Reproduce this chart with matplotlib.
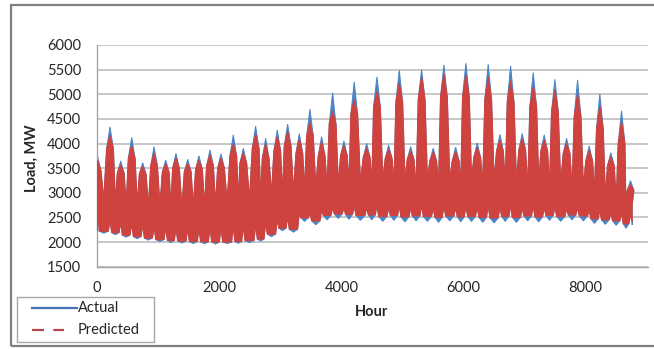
import numpy as np
import matplotlib
matplotlib.use("Agg")
import matplotlib.pyplot as plt
from matplotlib.lines import Line2D
from matplotlib.patches import Rectangle

# ---------------- data ----------------
# hours of the weekly peaks of the load band and of the dips between them
peak_hours = [10, 213, 388, 568, 748, 934, 1125, 1293, 1485, 1669, 1850,
              2030, 2231, 2395, 2597, 2761, 2951, 3121, 3312, 3486, 3677, 3857,
              4042, 4211, 4414, 4583, 4774, 4948, 5134, 5314, 5504, 5679, 5871,
              6039, 6224, 6404, 6596, 6771, 6961, 7141, 7321, 7496, 7687, 7867,
              8057, 8232, 8412, 8587, 8734]
dip_hours = [110, 300, 478, 658, 841, 1030, 1209, 1389, 1577, 1760, 1940,
             2130, 2313, 2496, 2679, 2856, 3036, 3216, 3399, 3581, 3767, 3950,
             4126, 4312, 4498, 4678, 4861, 5041, 5224, 5409, 5591, 5775, 5955,
             6131, 6314, 6500, 6683, 6866, 7051, 7231, 7408, 7591, 7777, 7962,
             8144, 8322, 8500, 8660, 8760]

# Actual load, MW
actual_peak = [3730, 4340, 3645, 4125, 3610, 3935, 3665, 3800, 3680, 3750, 3870,
               3790, 4175, 3905, 4355, 4105, 4275, 4395, 4205, 4695, 4140, 5030,
               4055, 5255, 4005, 5355, 3970, 5490, 3935, 5505, 3905, 5595, 3925,
               5630, 4015, 5610, 4185, 5575, 4205, 5440, 4175, 5305, 4105, 5290,
               3950, 5005, 3815, 4665, 3245]
actual_shoulder = [3450, 3900, 3400, 3700, 3380, 3550, 3420, 3500, 3430, 3480, 3550,
                   3500, 3750, 3600, 3900, 3700, 3850, 3950, 3800, 4150, 3750, 4400,
                   3750, 4600, 3720, 4750, 3700, 4850, 3680, 4900, 3650, 4950, 3650,
                   4950, 3720, 4900, 3850, 4850, 3870, 4750, 3850, 4650, 3800, 4550,
                   3650, 4300, 3550, 4000, 3050]
actual_peak_low = [2650, 2450, 2400, 2380, 2350, 2320, 2300, 2300, 2280, 2280, 2300,
                   2300, 2320, 2330, 2350, 2400, 2450, 2500, 2600, 2600, 2650, 2700,
                   2700, 2750, 2700, 2750, 2700, 2750, 2700, 2750, 2700, 2750, 2700,
                   2750, 2720, 2750, 2720, 2750, 2700, 2750, 2700, 2720, 2680, 2700,
                   2650, 2650, 2600, 2600, 2550]
actual_dip_high = [2850, 2800, 2750, 2750, 2700, 2720, 2700, 2680, 2700, 2720, 2750,
                   2800, 2850, 2850, 2900, 2950, 2950, 3000, 3050, 3100, 3100, 3150,
                   3150, 3200, 3150, 3250, 3150, 3250, 3100, 3250, 3100, 3250, 3150,
                   3250, 3150, 3250, 3150, 3200, 3100, 3200, 3100, 3150, 3050, 3100,
                   3000, 2900, 2800, 2550, 2750]
actual_floor = [2220, 2190, 2140, 2110, 2080, 2050, 2030, 2020, 2010, 2005, 2000,
                2000, 2010, 2030, 2060, 2160, 2280, 2260, 2490, 2430, 2540, 2570,
                2560, 2540, 2550, 2520, 2540, 2510, 2530, 2520, 2500, 2530, 2510,
                2520, 2500, 2490, 2520, 2500, 2530, 2510, 2540, 2520, 2550, 2530,
                2470, 2450, 2430, 2370, 2420]
actual_dip_low = [2180, 2150, 2100, 2070, 2040, 2010, 1990, 1980, 1970, 1965, 1960,
                  1970, 1975, 1990, 2020, 2110, 2230, 2200, 2420, 2350, 2450, 2480,
                  2460, 2440, 2450, 2420, 2440, 2410, 2430, 2420, 2400, 2430, 2410,
                  2420, 2400, 2390, 2420, 2400, 2430, 2410, 2440, 2420, 2450, 2430,
                  2380, 2360, 2340, 2280, 2350]

# Predicted load, MW
predicted_peak = [3660, 4160, 3570, 3960, 3540, 3810, 3590, 3710, 3600, 3660, 3770,
                  3710, 3990, 3810, 4190, 3990, 4150, 4250, 4090, 4430, 4040, 4660,
                  3960, 4890, 3910, 5060, 3880, 5230, 3850, 5360, 3830, 5420, 3840,
                  5400, 3920, 5340, 4070, 5270, 4100, 5160, 4070, 5090, 4000, 5000,
                  3870, 4760, 3740, 4450, 3170]
predicted_shoulder = [3450, 3900, 3400, 3700, 3380, 3550, 3420, 3500, 3430, 3480, 3550,
                      3500, 3750, 3600, 3900, 3700, 3850, 3950, 3800, 4150, 3750, 4400,
                      3750, 4600, 3720, 4750, 3700, 4850, 3680, 4900, 3650, 4950, 3650,
                      4950, 3720, 4900, 3850, 4850, 3870, 4750, 3850, 4650, 3800, 4550,
                      3650, 4300, 3550, 4000, 3050]
predicted_peak_low = [2650, 2450, 2400, 2380, 2350, 2320, 2300, 2300, 2280, 2280, 2300,
                      2300, 2320, 2330, 2350, 2400, 2450, 2500, 2600, 2600, 2650, 2700,
                      2700, 2750, 2700, 2750, 2700, 2750, 2700, 2750, 2700, 2750, 2700,
                      2750, 2720, 2750, 2720, 2750, 2700, 2750, 2700, 2720, 2680, 2700,
                      2650, 2650, 2600, 2600, 2550]
predicted_dip_high = [2870, 2820, 2770, 2770, 2720, 2740, 2720, 2700, 2720, 2740, 2770,
                      2820, 2870, 2870, 2920, 2970, 2970, 3020, 3070, 3120, 3120, 3170,
                      3170, 3220, 3170, 3270, 3170, 3270, 3120, 3270, 3120, 3270, 3170,
                      3270, 3170, 3270, 3170, 3220, 3120, 3220, 3120, 3170, 3070, 3120,
                      3020, 2920, 2820, 2570, 2770]
predicted_dip_low = [2220, 2190, 2140, 2110, 2080, 2050, 2030, 2020, 2010, 2005, 2000,
                     2000, 2010, 2030, 2060, 2160, 2280, 2260, 2490, 2430, 2540, 2570,
                     2560, 2540, 2550, 2520, 2540, 2510, 2530, 2520, 2500, 2530, 2510,
                     2520, 2500, 2490, 2520, 2500, 2530, 2510, 2540, 2520, 2550, 2530,
                     2470, 2450, 2430, 2370, 2420]

x_ticks = [0, 2000, 4000, 6000, 8000]
y_ticks = [1500, 2000, 2500, 3000, 3500, 4000, 4500, 5000, 5500, 6000]
series_names = ["Actual", "Predicted"]

# ---------------- styling ----------------
plt.rcParams["font.family"] = ["Lato", "DejaVu Sans"]
BLUE = "#4A84C6"
RED = "#D0423E"
LEG_BLUE = "#4673B5"
LEG_RED = "#B6464C"
TXT = "#262626"
W, H = 654, 349
UP_HALF = 55    # half width (hours) of the spike shoulders
LO_HALF = 28    # half width (hours) of the notch under each spike

fig = plt.figure(figsize=(W / 100, H / 100), dpi=100)
left, right, top, bottom = 97, 648, 45, 266.7
ax = fig.add_axes([left / W, 1 - bottom / H, (right - left) / W, (bottom - top) / H])


def band(peak, shoulder, dip_high, peak_low, floor, dip_low):
    ph = np.asarray(peak_hours, float)
    dh = np.asarray(dip_hours, float)
    # upper edge: shoulder, peak, shoulder, dip
    xu = np.column_stack([np.maximum(ph - UP_HALF, 0), ph, ph + UP_HALF, dh]).ravel()
    yu = np.column_stack([shoulder, peak, shoulder, dip_high]).ravel()
    # lower edge: floor, notch under peak, floor, trough
    prev_floor = np.r_[floor[0], floor[:-1]]
    xl = np.column_stack([np.maximum(ph - LO_HALF, 0), ph, ph + LO_HALF, dh]).ravel()
    yl = np.column_stack([prev_floor, peak_low, floor, dip_low]).ravel()
    return np.r_[xu, xl[::-1]], np.r_[yu, yl[::-1]]


xa, ya = band(actual_peak, actual_shoulder, actual_dip_high,
              actual_peak_low, actual_floor, actual_dip_low)
xp, yp = band(predicted_peak, predicted_shoulder, predicted_dip_high,
              predicted_peak_low, predicted_dip_low, predicted_dip_low)

ax.fill(xa, ya, facecolor=BLUE, edgecolor=BLUE, linewidth=0.7, zorder=2)
ax.fill(xp, yp, facecolor=RED, edgecolor=RED, linewidth=0.8, zorder=3)

ax.set_xlim(0, 9020)
ax.set_ylim(1500, 6000)
ax.set_xticks(x_ticks)
ax.set_yticks(y_ticks)
ax.yaxis.grid(True, color="#BDBDBD", linewidth=1.2)
ax.set_axisbelow(True)
for s in ("top", "right"):
    ax.spines[s].set_visible(False)
for s in ("left", "bottom"):
    ax.spines[s].set_color("#A6A6A6")
    ax.spines[s].set_linewidth(1.0)
ax.tick_params(length=0, labelsize=10.5, labelcolor=TXT)
ax.tick_params(axis="y", pad=11.5)
ax.tick_params(axis="x", pad=10.5)

fig.text(32 / W, 1 - 158 / H, "Load, MW", rotation=90, ha="center", va="center",
         fontsize=10.5, fontweight="bold", color=TXT)
fig.text(372 / W, 1 - 312 / H, "Hour", ha="center", va="center",
         fontsize=10.5, fontweight="bold", color=TXT)

# outer chart border (right side is cropped in the reference)
fig.patches.append(Rectangle((11 / W, 1 - 346 / H), 1.0, (346 - 5) / H,
                             transform=fig.transFigure, fill=False,
                             edgecolor="#808080", linewidth=1.6))

# legend box
fig.patches.append(Rectangle((17 / W, 1 - 342 / H), (154 - 17) / W, (342 - 297) / H,
                             transform=fig.transFigure, fill=True, facecolor="white",
                             edgecolor="#A6A6A6", linewidth=1.0))
fig.lines.append(Line2D([32 / W, 77 / W], [1 - 308 / H] * 2, transform=fig.transFigure,
                        color=LEG_BLUE, linewidth=1.6))
fig.lines.append(Line2D([32 / W, 64 / W], [1 - 330 / H] * 2, transform=fig.transFigure,
                        color=LEG_RED, linewidth=1.6, dashes=(5.4, 4.2)))
fig.text(78 / W, 1 - 308 / H, series_names[0], ha="left", va="center",
         fontsize=10.5, color=TXT)
fig.text(78 / W, 1 - 330 / H, series_names[1], ha="left", va="center",
         fontsize=10.5, color=TXT)

fig.savefig("out.png", dpi=100)
